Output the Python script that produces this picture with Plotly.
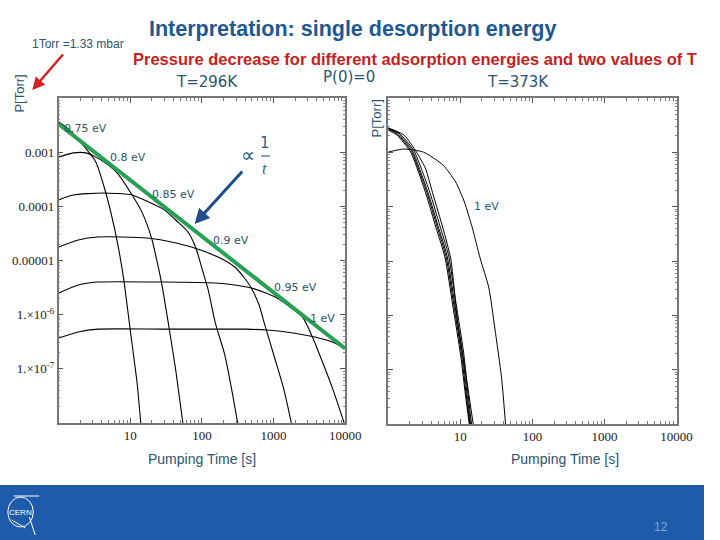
import plotly.graph_objects as go

# ---------------- data ----------------
energies = ["0.75 eV", "0.8 eV", "0.85 eV", "0.9 eV", "0.95 eV", "1 eV"]

# T = 296 K  (time in s, pressure in Torr)
t296_075 = [1, 1.21, 1.46, 2.19, 3.30, 4.52, 6.0, 7.25, 8.2, 9.9, 12.4, 14.0]
p296_075 = [3.6e-3, 3.04e-3, 2.46e-3, 1.35e-3, 6.6e-4, 1.84e-4, 4.0e-5, 1.11e-5, 4.0e-6, 5.7e-7, 5.7e-8, 1.0e-8]

t296_080 = [1, 1.60, 2.41, 3.30, 4.52, 6.59, 10.6, 14.5, 19.8, 23.2, 27.2, 33.8, 43.5, 54.2]
p296_080 = [8.1e-4, 9.7e-4, 9.7e-4, 8.1e-4, 6.3e-4, 4.1e-4, 1.62e-4, 7.9e-5, 2.6e-5, 1.07e-5, 4.0e-6, 7.3e-7, 8.7e-8, 1.0e-8]

t296_085 = [1, 1.60, 4.11, 10.6, 18.0, 29.8, 46.4, 63.5, 81.5, 101.6, 122.7, 152.8, 209, 261, 316]
p296_085 = [1.31e-4, 1.62e-4, 1.76e-4, 1.62e-4, 1.20e-4, 8.6e-5, 5.1e-5, 3.4e-5, 1.77e-5, 6.7e-6, 2.85e-6, 7.3e-7, 1.80e-7, 4.1e-8, 1.0e-8]

t296_090 = [1, 1.88, 3.52, 16.9, 43.5, 95.5, 179, 287, 393, 489, 629, 736, 1008, 1380, 1774]
p296_090 = [1.77e-5, 2.39e-5, 2.72e-5, 2.6e-5, 2.10e-5, 1.56e-5, 1.11e-5, 7.6e-6, 4.75e-6, 3.1e-6, 1.51e-6, 7.3e-7, 1.80e-7, 4.4e-8, 1.0e-8]

t296_095 = [1, 1.88, 3.52, 28.9, 152.8, 287, 489, 784, 1180, 1774, 2588, 3543, 4413, 6649, 9690]
p296_095 = [2.51e-6, 3.53e-6, 4.0e-6, 4.0e-6, 3.84e-6, 3.53e-6, 3.1e-6, 2.51e-6, 1.95e-6, 1.33e-6, 8.7e-7, 3.7e-7, 1.80e-7, 4.4e-8, 1.0e-8]

t296_100 = [1, 1.88, 3.52, 28.9, 418, 809, 1888, 3776, 6649, 10700]
p296_100 = [3.7e-7, 4.8e-7, 5.4e-7, 5.4e-7, 5.4e-7, 5.2e-7, 4.6e-7, 3.87e-7, 3.13e-7, 2.23e-7]

# T = 373 K
t373_075 = [1, 1.32, 2.05, 2.63, 3.38, 4.62, 6.11, 7.85, 10.1, 11.8, 13.3]
p373_075 = [2.58e-3, 2.09e-3, 1.01e-3, 4.35e-4, 1.64e-4, 4.05e-5, 1.19e-5, 1.55e-6, 1.86e-7, 3.4e-8, 1.0e-8]

t373_080 = [1, 1.35, 2.10, 2.70, 3.50, 4.80, 6.35, 8.1, 10.4, 12.1, 13.6]
p373_080 = [2.7e-3, 2.15e-3, 1.05e-3, 4.5e-4, 1.7e-4, 4.2e-5, 1.2e-5, 1.6e-6, 1.9e-7, 3.4e-8, 1.0e-8]

t373_085 = [1, 1.38, 2.16, 2.78, 3.60, 4.95, 6.55, 8.35, 10.7, 12.4, 13.9]
p373_085 = [2.75e-3, 2.2e-3, 1.08e-3, 4.6e-4, 1.75e-4, 4.3e-5, 1.25e-5, 1.65e-6, 2.0e-7, 3.5e-8, 1.0e-8]

t373_090 = [1, 1.42, 2.25, 2.92, 3.80, 5.20, 6.85, 8.7, 11.1, 12.8, 14.3]
p373_090 = [2.8e-3, 2.25e-3, 1.1e-3, 4.8e-4, 1.8e-4, 4.5e-5, 1.3e-5, 1.7e-6, 2.1e-7, 3.6e-8, 1.0e-8]

t373_095 = [1, 1.65, 2.47, 3.27, 4.21, 5.74, 7.38, 9.18, 11.8, 15.1]
p373_095 = [2.81e-3, 2.09e-3, 1.01e-3, 5.15e-4, 1.64e-4, 4.05e-5, 1.09e-5, 7.5e-7, 9.1e-8, 1.0e-8]

t373_100 = [1, 1.65, 3.08, 5.74, 8.62, 11.4, 14.7, 18.8, 24.9, 30.1, 37.4, 42.4]
p373_100 = [1.01e-3, 1.15e-3, 1.01e-3, 5.85e-4, 2.85e-4, 1.22e-4, 4.05e-5, 1.14e-5, 3.2e-6, 5.85e-7, 7.0e-8, 1.0e-8]

# 1/t envelope (green)
t_env = [1, 10000]
p_env = [3.3e-3, 2.37e-7]

x_tickvals = [10, 100, 1000, 10000]
x_ticktext = ["10", "100", "1000", "10000"]
x_minor = [m * d for d in (1, 10, 100, 1000) for m in range(2, 10)]
y_tickvals = [1e-3, 1e-4, 1e-5, 1e-6, 1e-7]
y_ticktext = ["0.001", "0.0001", "0.00001", "1.\u00d710<sup>-6</sup>", "1.\u00d710<sup>-7</sup>"]
y_minor = [m * d for d in (1e-8, 1e-7, 1e-6, 1e-5, 1e-4, 1e-3) for m in range(2, 10)]

# ---------------- figure ----------------
W, H = 720, 540


def px(x):
    return x / W


def py(y):
    return 1 - y / H


fig = go.Figure()

curves296 = [(t296_075, p296_075), (t296_080, p296_080), (t296_085, p296_085),
             (t296_090, p296_090), (t296_095, p296_095), (t296_100, p296_100)]
curves373 = [(t373_075, p373_075), (t373_080, p373_080), (t373_085, p373_085),
             (t373_090, p373_090), (t373_095, p373_095), (t373_100, p373_100)]

for name, (t, p) in zip(energies, curves296):
    fig.add_trace(go.Scatter(x=t, y=p, mode="lines", name=name + " 296K",
                             line=dict(color="black", width=1.1, shape="spline", smoothing=0.6),
                             xaxis="x", yaxis="y", showlegend=False))
for name, (t, p) in zip(energies, curves373):
    fig.add_trace(go.Scatter(x=t, y=p, mode="lines", name=name + " 373K",
                             line=dict(color="black", width=1.0, shape="spline", smoothing=0.6),
                             xaxis="x2", yaxis="y2", showlegend=False))

fig.add_trace(go.Scatter(x=t_env, y=p_env, mode="lines", name="1/t",
                         line=dict(color="#26a052", width=4), xaxis="x", yaxis="y",
                         showlegend=False))

tickfont = dict(family="Liberation Serif, Times New Roman, serif", size=13, color="#222")
axis_common = dict(type="log", range=[0, 4], showgrid=False, zeroline=False,
                   showline=True, linecolor="#777", linewidth=1.5, mirror="allticks",
                   ticks="inside", ticklen=5, tickcolor="#555",
                   minor=dict(ticks="inside", ticklen=3, tickcolor="#777", tickmode="array",
                              tickvals=x_minor),
                   tickvals=x_tickvals, ticktext=x_ticktext, tickfont=tickfont)
yaxis_common = dict(type="log", range=[-8, -2], showgrid=False, zeroline=False,
                    showline=True, linecolor="#777", linewidth=1.5, mirror="allticks",
                    ticks="inside", ticklen=5, tickcolor="#555",
                    minor=dict(ticks="inside", ticklen=2, tickcolor="#888", tickmode="array",
                               tickvals=y_minor),
                    tickvals=y_tickvals, ticktext=y_ticktext, tickfont=tickfont)

fig.update_layout(
    width=W, height=H, margin=dict(l=0, r=0, t=0, b=0), autosize=False,
    paper_bgcolor="white", plot_bgcolor="white",
    xaxis=dict(axis_common, domain=[px(60), px(353)], anchor="y"),
    yaxis=dict(yaxis_common, domain=[py(423), py(98)], anchor="x"),
    xaxis2=dict(axis_common, domain=[px(397), px(692)], anchor="y2"),
    yaxis2=dict(yaxis_common, domain=[py(424), py(98)], anchor="x2", showticklabels=False),
    showlegend=False,
)

txt_col = "#2b5573"
ann = []


def A(x, y, text, size, color=txt_col, family="DejaVu Sans, sans-serif", **kw):
    ann.append(dict(x=px(x), y=py(y), xref="paper", yref="paper", text=text, showarrow=False,
                    font=dict(size=size, color=color, family=family), xanchor="center",
                    yanchor="middle", **kw))


A(360, 29, "<b>Interpretation: single desorption energy</b>", 21.5, "#1b5894",
  "Liberation Sans, Arial, sans-serif")
A(424, 59, "<b>Pressure decrease for different adsorption energies and two values of T</b>", 16.5,
  "#c81e1e", "Liberation Sans, Arial, sans-serif")
A(212, 82, "T=296K", 15)
A(357, 77, "P(0)=0", 15)
A(530, 82, "T=373K", 15)
A(80, 44, "1Torr =1.33 mbar", 12, txt_col, "Liberation Sans, Arial, sans-serif")
A(20, 94, "P[Torr]", 13, txt_col, "Liberation Sans, Arial, sans-serif", textangle=-90)
A(385, 118, "P[Torr]", 13, txt_col, "Liberation Sans, Arial, sans-serif", textangle=-90)
A(207, 459, "Pumping Time [s]", 14, txt_col, "Liberation Sans, Arial, sans-serif")
A(578, 459, "Pumping Time [s]", 14, txt_col, "Liberation Sans, Arial, sans-serif")

for (x, y), lab in zip([(87, 128), (131, 158), (177, 194), (236, 240), (302, 287), (330, 318)], energies):
    A(x, y, lab, 11)
A(498, 207, "1 eV", 11)

# proportional to 1/t
A(254, 155, "\u221d", 20, "#2f5f8f")
A(271, 143, "1", 15, "#2f5f8f")
A(271, 169, "<i>t</i>", 16, "#2f5f8f", "Liberation Serif, serif")
A(676, 527, "12", 12, "#7aa7dc", "Liberation Sans, Arial, sans-serif")
A(21, 512, "CERN", 8, "white", "Liberation Sans, Arial, sans-serif")

# arrows
ann.append(dict(x=px(199), y=py(224), xref="paper", yref="paper", ax=49, ay=-54, text="",
                showarrow=True, arrowhead=2, arrowsize=1, arrowwidth=3, arrowcolor="#1f4e8c"))
ann.append(dict(x=px(33), y=py(90), xref="paper", yref="paper", ax=32, ay=-37, text="",
                showarrow=True, arrowhead=2, arrowsize=1, arrowwidth=2.5, arrowcolor="#d42020"))

shapes = [
    dict(type="rect", xref="paper", yref="paper", x0=0, x1=1, y0=0, y1=py(485),
         fillcolor="#1f5bab", line=dict(width=0), layer="below"),
    dict(type="line", xref="paper", yref="paper", x0=px(267), x1=px(276), y0=py(156), y1=py(156),
         line=dict(color="#2f5f8f", width=1.2)),
    dict(type="circle", xref="paper", yref="paper", x0=px(8), x1=px(34), y0=py(527), y1=py(497),
         line=dict(color="white", width=1)),
    dict(type="line", xref="paper", yref="paper", x0=px(14), x1=px(40), y0=py(496), y1=py(496),
         line=dict(color="white", width=1)),
    dict(type="line", xref="paper", yref="paper", x0=px(30), x1=px(36), y0=py(517), y1=py(535),
         line=dict(color="white", width=1)),
    dict(type="line", xref="paper", yref="paper", x0=px(12), x1=px(26), y0=py(520), y1=py(528),
         line=dict(color="white", width=1)),
]

fig.update_layout(annotations=ann, shapes=shapes)
fig.write_html(
    "out.html", config={"displayModeBar": False},
    post_script=(
        "var de=document.documentElement;de.style.overflow='hidden';de.style.width='720px';"
        "de.style.height='540px';document.body.style.margin='0';document.body.style.overflow='hidden';"
        "document.body.style.width='720px';document.body.style.height='540px';"
        "document.querySelectorAll('.plotly-graph-div,.svg-container,.main-svg').forEach("
        "function(e){e.style.overflow='hidden';});"
    ),
)
